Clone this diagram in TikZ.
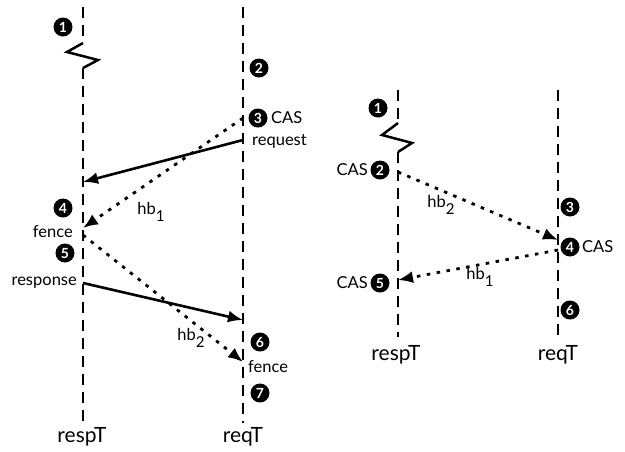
\documentclass[tikz,border=0pt]{standalone}
\usepackage{fontspec}
\setmainfont{Lato}
\usetikzlibrary{arrows.meta}
\begin{document}
\begin{tikzpicture}[x=1pt,y=-1pt,
  lifeline/.style={line width=2.7pt,dash pattern=on 11pt off 7pt},
  zig/.style={line width=2.5pt,line join=miter},
  msg/.style={line width=2.6pt,-{Latex[length=15pt,width=12pt]}},
  hbarrow/.style={line width=2.8pt,dash pattern=on 3.5pt off 6.5pt,-{Latex[length=15pt,width=12pt]}},
  stepnum/.style={circle,fill=black,text=white,inner sep=0pt,minimum size=19pt,
    font=\fontsize{14}{14}\selectfont\bfseries},
  lbl/.style={inner sep=0pt,font=\fontsize{16.5}{18}\selectfont},
  thread/.style={inner sep=0pt,font=\fontsize{21}{24}\selectfont}
]
\useasboundingbox (0,0) rectangle (625,451);
\newcommand{\hbsub}[1]{hb\raisebox{-7pt}{\fontsize{15}{15}\selectfont #1}}

% ---------------- left scenario ----------------
\coordinate (LAtop) at (83,7);
\coordinate (LAz1) at (83,43);
\coordinate (LAz2) at (67,52);
\coordinate (LAz3) at (98,60);
\coordinate (LAz4) at (83,68);
\coordinate (LAbot) at (83,423);
\coordinate (LBtop) at (243,7);
\coordinate (LBbot) at (243,423);

\draw[lifeline] (LAtop) -- (LAz1);
\draw[zig] (LAz1) -- (LAz2) -- (LAz3) -- (LAz4);
\draw[lifeline] (LAz4) -- (LAbot);
\draw[lifeline] (LBtop) -- (LBbot);

\node[stepnum] (l1) at (63,27) {1};
\node[stepnum] (l2) at (259,68) {2};
\node[stepnum] (l3) at (258,118) {3};
\node[lbl,anchor=west] (l3cas) at (271,118) {CAS};
\node[lbl,anchor=west] (lreq) at (252,141) {request};
\node[stepnum] (l4) at (63,208) {4};
\node[lbl,anchor=east] (lfenceA) at (73,232) {fence};
\node[stepnum] (l5) at (65,253) {5};
\node[lbl,anchor=east] (lresp) at (77,283) {response};
\node[stepnum] (l6) at (260,342) {6};
\node[lbl,anchor=west] (lfenceB) at (248,367) {fence};
\node[stepnum] (l7) at (260,393) {7};

\coordinate (LBreq) at (243,140);
\coordinate (LAreq) at (83,182);
\coordinate (LBcas) at (243,118);
\coordinate (LAfenceIn) at (83,228);
\coordinate (LAfenceOut) at (83,235);
\coordinate (LAresp) at (83,283);
\coordinate (LBresp) at (243,320);
\coordinate (LBfence) at (243,362);

\draw[msg] (LBreq) -- (LAreq);
\draw[hbarrow] (LBcas) -- (LAfenceIn);
\draw[msg] (LAresp) -- (LBresp);
\draw[hbarrow] (LAfenceOut) -- (LBfence);

\node[lbl] (lhb1) at (151,212) {\hbsub{1}};
\node[lbl] (lhb2) at (191,338) {\hbsub{2}};

\node[thread] (lrespT) at (82,437) {respT};
\node[thread] (lreqT) at (243,437) {reqT};

% ---------------- right scenario ----------------
\coordinate (RAtop) at (398,90);
\coordinate (RAz1) at (398,123);
\coordinate (RAz2) at (382,135);
\coordinate (RAz3) at (412,143);
\coordinate (RAz4) at (398,152);
\coordinate (RAbot) at (398,337);
\coordinate (RBtop) at (558,90);
\coordinate (RBbot) at (558,337);

\draw[lifeline] (RAtop) -- (RAz1);
\draw[zig] (RAz1) -- (RAz2) -- (RAz3) -- (RAz4);
\draw[lifeline] (RAz4) -- (RAbot);
\draw[lifeline] (RBtop) -- (RBbot);

\node[stepnum] (r1) at (378,108) {1};
\node[stepnum] (r2) at (380,170) {2};
\node[lbl,anchor=east] (r2cas) at (368,170) {CAS};
\node[stepnum] (r3) at (570,207) {3};
\node[stepnum] (r4) at (570,247) {4};
\node[lbl,anchor=west] (r4cas) at (582,247) {CAS};
\node[stepnum] (r5) at (380,283) {5};
\node[lbl,anchor=east] (r5cas) at (368,283) {CAS};
\node[stepnum] (r6) at (570,310) {6};

\coordinate (RAcas) at (398,172);
\coordinate (RBcasIn) at (558,240);
\coordinate (RBcasOut) at (558,250);
\coordinate (RAcasIn) at (398,280);

\draw[hbarrow] (RAcas) -- (RBcasIn);
\draw[hbarrow] (RBcasOut) -- (RAcasIn);

\node[lbl] (rhb2) at (441,205) {\hbsub{2}};
\node[lbl] (rhb1) at (480,277) {\hbsub{1}};

\node[thread] (rrespT) at (396,355) {respT};
\node[thread] (rreqT) at (558,355) {reqT};
\end{tikzpicture}
\end{document}
